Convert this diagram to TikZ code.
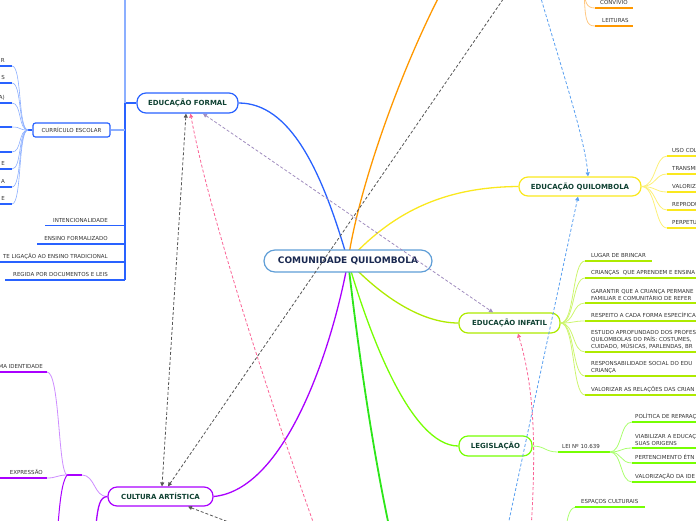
\documentclass[tikz,border=0pt]{standalone}
\usepackage{fontspec}
\setmainfont{DejaVu Sans}
\usetikzlibrary{arrows.meta,calc}
\pgfdeclarelayer{bg}
\pgfsetlayers{bg,main}
\definecolor{tx}{RGB}{15,65,50}
\definecolor{navy}{RGB}{25,40,80}
\definecolor{lt}{RGB}{50,50,50}
\definecolor{ccent}{RGB}{95,158,215}
\definecolor{cformal}{RGB}{41,98,255}
\definecolor{cformall}{RGB}{140,175,255}
\definecolor{cyell}{RGB}{250,232,30}
\definecolor{cyelll}{RGB}{252,240,120}
\definecolor{clime}{RGB}{174,234,0}
\definecolor{climel}{RGB}{205,245,110}
\definecolor{cleg}{RGB}{118,255,3}
\definecolor{clegl}{RGB}{170,255,110}
\definecolor{cgreen}{RGB}{45,230,25}
\definecolor{corange}{RGB}{255,152,0}
\definecolor{corangel}{RGB}{255,200,130}
\definecolor{cpurp}{RGB}{170,0,255}
\definecolor{cpurpl}{RGB}{205,140,255}
\definecolor{dgray}{RGB}{85,85,85}
\definecolor{dpink}{RGB}{250,100,150}
\definecolor{dlav}{RGB}{160,140,190}
\definecolor{dblue}{RGB}{90,160,240}
\begin{document}
\begin{tikzpicture}[x=1pt,y=-1pt,
  mnode/.style={draw, rounded corners=9pt, fill=white, line width=1.2pt,
    font=\fontsize{7}{8}\selectfont\bfseries, text=tx, inner sep=0pt},
  leaf/.style={font=\fontsize{5.5}{7}\selectfont, text=lt, inner sep=0pt, align=left},
  conn/.style={line width=1.3pt},
  uline/.style={line width=1.6pt},
  fan/.style={line width=0.6pt},
  rel/.style={line width=0.8pt, dash pattern=on 3pt off 2pt},
  tip/.tip={Triangle[length=4pt,width=4pt]}]
\path[use as bounding box] (0,0) rectangle (696,520);

% main nodes
\node[mnode, draw=ccent, minimum width=168pt, minimum height=22pt, rounded corners=11pt,
  font=\fontsize{9}{10}\selectfont\bfseries, text=navy] (central) at (348,261) {COMUNIDADE QUILOMBOLA};
\node[mnode, draw=cformal, minimum width=101pt, minimum height=20pt] (formal) at (187.5,103) {EDUCAÇÃO FORMAL};
\node[mnode, draw=cyell, minimum width=122pt, minimum height=19pt] (quil) at (580,186.5) {EDUCAÇÃO QUILOMBOLA};
\node[mnode, draw=clime, minimum width=101pt, minimum height=20pt] (infatil) at (509.5,323) {EDUCAÇÃO INFATIL};
\node[mnode, draw=cleg, minimum width=73pt, minimum height=20pt] (legis) at (495.5,446) {LEGISLAÇÃO};
\node[mnode, draw=cpurp, minimum width=105pt, minimum height=19pt] (cultura) at (160.5,496.5) {CULTURA ARTÍSTICA};
\node[draw=cformal, line width=1.2pt, rounded corners=2.5pt, fill=white, minimum width=77pt, minimum height=14pt,
  inner sep=0pt, font=\fontsize{5.5}{7}\selectfont, text=lt] (curr) at (71.5,130) {CURRÍCULO ESCOLAR};

\coordinate (orangeend) at (445,-15);
\coordinate (greenend) at (392,540);

\begin{pgfonlayer}{bg}
% central branches
\draw[conn, cformal] (central.center) .. controls (322,170) and (290,103) .. (formal.east);
\draw[conn, corange] (central.center) .. controls (358,190) and (400,70) .. (orangeend);
\draw[conn, cyell] (central.center) .. controls (390,215) and (440,187) .. (quil.west);
\draw[conn, clime] (central.center) .. controls (380,295) and (420,323) .. (infatil.west);
\draw[conn, cleg] (central.center) .. controls (368,330) and (410,446) .. (legis.west);
\draw[line width=1.8pt, cgreen] (central.center) .. controls (356,330) and (370,440) .. (greenend);
\draw[conn, cpurp] (central.center) .. controls (332,350) and (285,490) .. (cultura.east);
\end{pgfonlayer}

% ---- EDUCAÇÃO FORMAL children
\coordinate (fv) at (125,103);
\draw[conn, cformal] (formal.west) -- (fv) -- (125,280);
\draw[conn, cformall] (fv) -- (125,-5);
\draw[line width=1.8pt, cformall] (curr.east) -- (125,130);
\foreach \yy/\xs/\t in {225.5/45/INTENCIONALIDADE, 244/37/ENSINO FORMALIZADO,
    262/-5/TE LIGAÇÃO AO ENSINO TRADICIONAL, 280/5/REGIDA POR DOCUMENTOS E LEIS}{
  \draw[uline, cformal] (\xs,\yy) -- (125,\yy);
  \node[leaf, anchor=base east] at (108,\yy-3.5) {\t};
}
% curriculo fan
\coordinate (cf) at (28,130);
\draw[line width=1.5pt, cformal] (curr.west) -- (cf);
\foreach \yy in {66,83,103,127,152,169,187,204}{
  \draw[fan, cformall] (cf) .. controls (18,130) and (22,\yy) .. (12,\yy);
  \draw[uline, cformal] (12,\yy) -- (-5,\yy);
}
\foreach \yy/\t in {66/R, 83/S, 103/A), 169/E, 187/A, 204/E}{
  \node[leaf, anchor=base east] at (5,\yy-3.5) {\t};
}

% ---- EDUCAÇÃO QUILOMBOLA children
\foreach \yy/\t in {156/USO COL, 174/TRANSMI, 192/VALORIZ, 210/REPRODU, 228/PERPETU}{
  \draw[fan, cyelll, line width=0.8pt] (quil.east) .. controls (656,186.5) and (655,\yy) .. (667,\yy);
  \draw[uline, cyell] (667,\yy) -- (700,\yy);
  \node[leaf, anchor=base west] at (672,\yy-3.5) {\t};
}

% ---- EDUCAÇÃO INFATIL children
\foreach \yy/\xe in {261/652, 278/700, 303/700, 321/700, 352/700, 376/700, 395/700}{
  \draw[fan, climel, line width=0.8pt] (infatil.east) .. controls (575,323) and (572,\yy) .. (585,\yy);
  \draw[uline, clime] (585,\yy) -- (\xe,\yy);
}
\node[leaf, anchor=base west] (i1) at (591,257.5) {LUGAR DE BRINCAR};
\node[leaf, anchor=base west] (i2) at (591,274.5) {CRIANÇAS\ \ QUE APRENDEM E ENSINA};
\node[leaf, anchor=south west] (i3) at (591,300.3) {GARANTIR QUE A CRIANÇA PERMANE\\FAMILIAR E COMUNITÁRIO DE REFER};
\node[leaf, anchor=base west] (i4) at (591,317.5) {RESPEITO A CADA FORMA ESPECÍFICA};
\node[leaf, anchor=south west] (i5) at (591,349.3) {ESTUDO APROFUNDADO DOS PROFES\\QUILOMBOLAS DO PAÍS: COSTUMES,\\CUIDADO, MÚSICAS, PARLENDAS, BR};
\node[leaf, anchor=south west] (i6) at (591,373.3) {RESPONSABILIDADE SOCIAL DO EDU\\CRIANÇA};
\node[leaf, anchor=base west] (i7) at (591,391.5) {VALORIZAR AS RELAÇÕES DAS CRIAN};

% ---- LEGISLAÇÃO children
\coordinate (lei) at (610,452);
\draw[fan, clegl, line width=0.8pt] (legis.east) .. controls (545,446) and (545,452) .. (558,452);
\draw[uline, cleg] (558,452) -- (lei);
\node[leaf, anchor=base west] at (562,448.5) {LEI Nº 10.639};
\foreach \yy in {422,448,463,482}{
  \draw[fan, clegl, line width=0.8pt] (lei) .. controls (622,452) and (620,\yy) .. (632,\yy);
  \draw[uline, cleg] (632,\yy) -- (700,\yy);
}
\node[leaf, anchor=base west] at (635,418.5) {POLÍTICA DE REPARAÇ};
\node[leaf, anchor=south west] at (635,445.3) {VIABILIZAR A EDUCAÇ\\SUAS ORIGENS};
\node[leaf, anchor=base west] at (635,459.5) {PERTENCIMENTO ÉTN};
\node[leaf, anchor=base west] at (635,478.5) {VALORIZAÇÃO DA IDE};

% espacos culturais
\coordinate (espfree) at (565,535);
\draw[fan, clegl, line width=0.8pt] (espfree) .. controls (568,512) and (570,507) .. (578,507);
\draw[uline, cleg] (575,507) -- (645,507);
\node[leaf, anchor=base west] at (581,503.5) {ESPAÇOS CULTURAIS};

% ---- orange children
\coordinate (ofree) at (584,-12);
\foreach \yy in {8,26}{
  \draw[fan, corangel, line width=0.8pt] (ofree) .. controls (585,\yy-6) and (586,\yy) .. (595,\yy);
  \draw[uline, corange] (595,\yy) -- (633,\yy);
}
\node[leaf, anchor=base west] at (600,4.5) {CONVÍVIO};
\node[leaf, anchor=base west] at (602,22.5) {LEITURAS};

% ---- CULTURA ARTÍSTICA children
\coordinate (cj) at (67,475);
\draw[uline, cpurp] (cj) -- (82,475);
\draw[fan, cpurpl, line width=0.8pt] (82,475) .. controls (95,475) and (94,497) .. (cultura.west);
\draw[conn, cpurp] (cultura.west) .. controls (100,497) and (98,505) .. (96,525);
\draw[fan, cpurpl, line width=0.8pt] (cj) .. controls (58,472) and (60,372) .. (47,372);
\draw[fan, cpurpl, line width=0.8pt] (cj) .. controls (57,475) and (57,478) .. (47,478);
\draw[line width=1pt, cpurp] (cj) .. controls (62,482) and (60,500) .. (58,525);
\draw[uline, cpurp] (-5,372) -- (47,372);
\draw[uline, cpurp] (-5,478) -- (47,478);
\node[leaf, anchor=base east] at (43,368.5) {MA IDENTIDADE};
\node[leaf, anchor=base east] at (43,474.5) {EXPRESSÃO};

% ---- relationship arrows (dashed)
\coordinate (g1) at (506,-5);
\coordinate (p1) at (316,530);
\coordinate (p2) at (531,530);
\coordinate (b1) at (540,-5);
\coordinate (b2) at (507,530);
\coordinate (g2) at (255,532);
\draw[rel, dgray, -tip] (g1) -- ([xshift=7.5pt]cultura.north);
\draw[rel, dgray, tip-tip] ([xshift=-1.5pt]formal.south) -- ([xshift=1.5pt]cultura.north);
\draw[rel, dpink, -tip] (p1) .. controls (280,430) and (210,220) .. ([xshift=3pt]formal.south);
\draw[rel, dlav, tip-tip] ([xshift=15.5pt]formal.south) -- ([xshift=-16.5pt]infatil.north);
\draw[rel, dpink, -tip] (p2) .. controls (536,450) and (535,390) .. ([xshift=8.5pt]infatil.south);
\draw[rel, dblue, -tip] (b1) .. controls (565,80) and (585,140) .. ([xshift=8pt]quil.north);
\draw[rel, dblue, -tip] (b2) -- ([xshift=-2pt]quil.south);
\draw[rel, dgray, -tip] (g2) -- ([xshift=27.5pt]cultura.south);
\end{tikzpicture}
\end{document}
